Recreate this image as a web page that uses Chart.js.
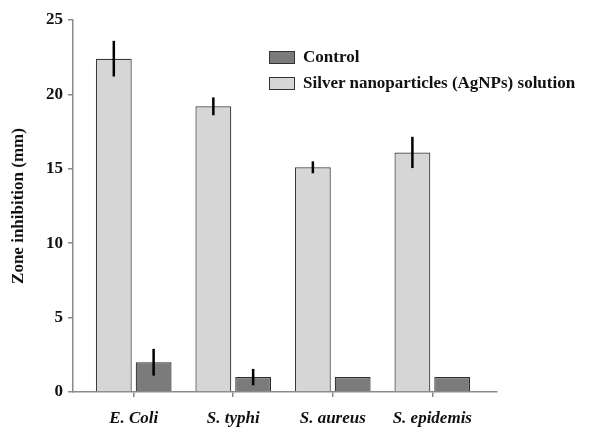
<!DOCTYPE html>
<html>
<head>
<meta charset="utf-8">
<script src="https://cdn.jsdelivr.net/npm/chart.js@4.4.0/dist/chart.umd.min.js"></script>
<style>
  html, body { margin: 0; padding: 0; background: #fff; }
  #wrap { position: relative; width: 600px; height: 442px; }
  #legend { position: absolute; left: 269px; top: 44px; font: bold 17px "Liberation Serif", "Times New Roman", serif; color: #111; }
  .leg-row { display: flex; align-items: center; height: 26px; }
  .leg-box { width: 24px; height: 11px; border: 1px solid #333; margin-right: 8px; }
</style>
</head>
<body>
<div id="wrap">
  <canvas id="chart" width="600" height="442"></canvas>
  <div id="legend"></div>
</div>
<script>
// Data
const categories  = ['E. Coli', 'S. typhi', 'S. aureus', 'S. epidemis'];
const silverVals  = [22.4, 19.2, 15.1, 16.1];
const silverErr   = [1.2, 0.6, 0.4, 1.05];
const controlVals = [2.0, 1.0, 1.0, 1.0];
const controlErr  = [0.9, 0.55, 0, 0];
const yTicks      = [0, 5, 10, 15, 20, 25];

const serif = '"Liberation Serif", "Times New Roman", serif';

const toPoints = vals => vals.map((v, i) => ({ x: i, y: v }));

// vertical error lines, no caps
const errorBars = {
  id: 'errorBars',
  afterDatasetsDraw(chart) {
    const ctx = chart.ctx;
    const y = chart.scales.y;
    chart.data.datasets.forEach((ds, di) => {
      const meta = chart.getDatasetMeta(di);
      meta.data.forEach((bar, i) => {
        const err = ds.errors[i];
        if (!err) return;
        const v = ds.data[i].y;
        ctx.save();
        ctx.strokeStyle = '#000';
        ctx.lineWidth = 2.5;
        ctx.beginPath();
        ctx.moveTo(bar.x, y.getPixelForValue(v + err));
        ctx.lineTo(bar.x, y.getPixelForValue(v - err));
        ctx.stroke();
        ctx.restore();
      });
    });
  }
};

const chart = new Chart(document.getElementById('chart'), {
  type: 'bar',
  data: {
    datasets: [
      {
        label: 'Silver nanoparticles (AgNPs) solution',
        data: toPoints(silverVals),
        errors: silverErr,
        backgroundColor: '#d6d6d6',
        borderColor: '#3a3a3a',
        borderWidth: 1.2,
        barPercentage: 0.9,
        categoryPercentage: 0.8
      },
      {
        label: 'Control',
        data: toPoints(controlVals),
        errors: controlErr,
        backgroundColor: '#7b7b7b',
        borderColor: '#2e2e2e',
        borderWidth: 1.2,
        barPercentage: 0.9,
        categoryPercentage: 0.8
      }
    ]
  },
  options: {
    responsive: false,
    animation: false,
    layout: { padding: { top: 20, right: 103, left: 0, bottom: 0 } },
    plugins: {
      legend: { display: false },
      tooltip: { enabled: false }
    },
    scales: {
      x: {
        type: 'linear',
        min: -0.61,
        max: 3.65,
        offset: false,
        afterFit: s => { s.height = 50; },
        border: { color: '#8a8a8a', width: 1.5 },
        grid: { offset: false, drawOnChartArea: false, tickLength: 5, color: '#8a8a8a', lineWidth: 1.5 },
        ticks: {
          stepSize: 1,
          includeBounds: false,
          autoSkip: false,
          maxRotation: 0,
          padding: 11,
          color: '#111',
          font: { family: serif, size: 17, weight: 'bold', style: 'italic' },
          callback: v => categories[v] ?? ''
        }
      },
      y: {
        min: 0,
        max: 25,
        afterFit: s => { s.width = 73; },
        afterBuildTicks: s => { s.ticks = yTicks.map(v => ({ value: v })); },
        border: { color: '#8a8a8a', width: 1.5 },
        grid: { drawOnChartArea: false, tickLength: 5, color: '#8a8a8a', lineWidth: 1.5 },
        ticks: {
          padding: 5,
          color: '#111',
          font: { family: serif, size: 17, weight: 'bold' }
        },
        title: {
          display: true,
          text: 'Zone inhibition (mm)',
          color: '#111',
          padding: { top: 8, bottom: 0 },
          font: { family: serif, size: 17, weight: 'bold' }
        }
      }
    }
  },
  plugins: [errorBars]
});

// legend: Control listed first
const legend = document.getElementById('legend');
chart.data.datasets.slice().reverse().forEach(ds => {
  const row = document.createElement('div');
  row.className = 'leg-row';
  row.innerHTML = `<span class="leg-box" style="background:${ds.backgroundColor}"></span><span>${ds.label}</span>`;
  legend.appendChild(row);
});
</script>
</body>
</html>
